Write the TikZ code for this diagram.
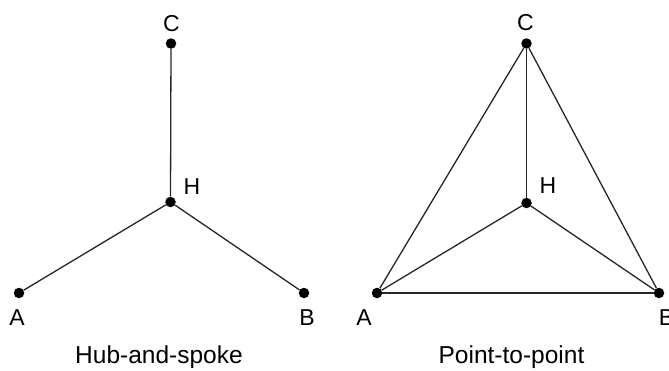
\documentclass[tikz,border=0pt]{standalone}
\usepackage{fontspec}
\setmainfont{Liberation Sans}
\begin{document}
\begin{tikzpicture}[x=1pt,y=-1pt,
  vertex/.style={circle,fill=black,inner sep=0pt,minimum size=10.5pt},
  edge/.style={line width=1.3pt,black!85},
  lbl/.style={font=\fontsize{23}{27}\selectfont,inner sep=0pt},
  caption/.style={font=\fontsize{24.5}{29}\selectfont,inner sep=0pt}]
\useasboundingbox (0,0) rectangle (669,370);
% hub-and-spoke network
\node[vertex] (lc) at (171,43.5) {};
\node[vertex] (lh) at (170.5,202) {};
\node[vertex] (la) at (19,293) {};
\node[vertex] (lb) at (304,293) {};
\draw[edge] (lh) -- (lc);
\draw[edge] (lh) -- (la);
\draw[edge] (lh) -- (lb);
\node[lbl] (lcl) at (171.5,24) {C};
\node[lbl] (lhl) at (192,186.5) {H};
\node[lbl] (lal) at (17,317.5) {A};
\node[lbl] (lbl) at (307,318) {B};
\node[caption] (lcap) at (159,357) {Hub-and-spoke};
% point-to-point network
\node[vertex] (rc) at (526.5,43.5) {};
\node[vertex] (rh) at (526.5,203) {};
\node[vertex] (ra) at (377,293) {};
\node[vertex] (rb) at (659,293) {};
\draw[edge] (rh) -- (rc);
\draw[edge] (rh) -- (ra);
\draw[edge] (rh) -- (rb);
\draw[edge] (ra) -- (rb);
\draw[edge] (ra) -- (rc);
\draw[edge] (rb) -- (rc);
\node[lbl] (rcl) at (525.5,23) {C};
\node[lbl] (rhl) at (548,186) {H};
\node[lbl] (ral) at (364,318) {A};
\node[lbl] (rbl) at (666.5,318) {B};
\node[caption] (rcap) at (511.5,357) {Point-to-point};
\end{tikzpicture}
\end{document}
